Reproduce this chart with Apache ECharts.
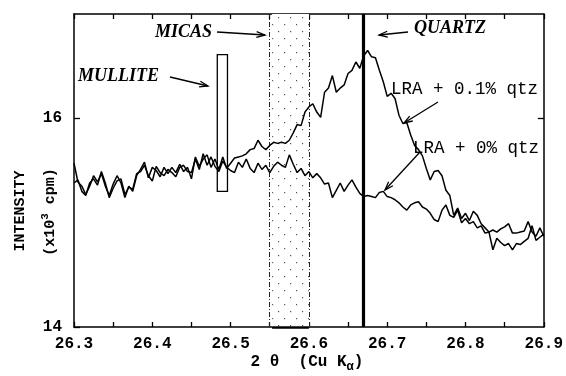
<!DOCTYPE html>
<html>
<head>
<meta charset="utf-8">
<script src="https://cdn.jsdelivr.net/npm/echarts@6/dist/echarts.min.js"></script>
<style>
  html, body { margin: 0; padding: 0; background: #fff; }
  #chart { width: 566px; height: 376px; }
</style>
</head>
<body>
<div id="chart"></div>
<script>
// Step scan in 2-theta (degrees), constant step
const twoThetaStart = 26.30;
const twoThetaStep = 0.005;

// Intensity (x10^3 cpm), LRA spiked with 0.1% quartz
const lraQtz01 = [
  15.57, 15.39, 15.35, 15.27, 15.35, 15.45, 15.39, 15.47, 15.35, 15.26,
  15.37, 15.45, 15.38, 15.24, 15.35, 15.30, 15.45, 15.51, 15.58, 15.43,
  15.53, 15.50, 15.44, 15.53, 15.47, 15.53, 15.48, 15.56, 15.49, 15.53,
  15.42, 15.63, 15.54, 15.61, 15.65, 15.53, 15.61, 15.51, 15.63, 15.52,
  15.57, 15.62, 15.63, 15.64, 15.66, 15.70, 15.71, 15.79, 15.73, 15.70,
  15.74, 15.77, 15.76, 15.77, 15.76, 15.79, 15.86, 15.94, 15.93, 16.06,
  16.11, 16.14, 16.06, 16.01, 16.25, 16.29, 16.41, 16.25, 16.29, 16.32,
  16.43, 16.46, 16.54, 16.48, 16.60, 16.65, 16.59, 16.58, 16.46, 16.35,
  16.21, 16.24, 16.19, 16.03, 15.95, 15.96, 15.84, 15.74, 15.70, 15.64,
  15.52, 15.41, 15.49, 15.50, 15.45, 15.31, 15.26, 15.07, 15.14, 15.04,
  15.09, 15.02, 15.11, 15.07, 14.99, 14.95, 14.91, 14.93, 14.91, 14.94,
  14.96, 14.99, 14.90, 14.90, 14.91, 14.92, 15.01, 14.91, 14.87, 14.95,
  14.87
];

// Intensity (x10^3 cpm), LRA without quartz
const lraQtz00 = [
  15.38, 15.41, 15.30, 15.26, 15.38, 15.42, 15.36, 15.49, 15.38, 15.24,
  15.33, 15.40, 15.42, 15.27, 15.34, 15.32, 15.47, 15.49, 15.55, 15.45,
  15.40, 15.54, 15.48, 15.45, 15.51, 15.48, 15.44, 15.53, 15.55, 15.49,
  15.48, 15.61, 15.51, 15.66, 15.55, 15.63, 15.54, 15.49, 15.59, 15.53,
  15.50, 15.48, 15.58, 15.53, 15.61, 15.52, 15.48, 15.57, 15.51, 15.55,
  15.48, 15.54, 15.58, 15.55, 15.53, 15.65, 15.56, 15.48, 15.52, 15.45,
  15.49, 15.43, 15.47, 15.43, 15.37, 15.38, 15.24, 15.31, 15.38, 15.30,
  15.36, 15.41, 15.34, 15.28, 15.25, 15.26, 15.25, 15.24, 15.29, 15.30,
  15.25, 15.24, 15.22, 15.19, 15.15, 15.12, 15.17, 15.19, 15.20, 15.15,
  15.13, 15.09, 15.03, 15.01, 15.12, 15.17, 15.07, 15.05, 15.12, 15.00,
  15.04, 14.99, 15.01, 14.95, 14.97, 14.90, 14.91, 14.74, 14.85, 14.81,
  14.78, 14.80, 14.74, 14.80, 14.79, 14.82, 14.85, 14.97, 14.83, 14.86,
  14.89
];

// Reference peak positions / windows
const quartzPeak = 26.672;
const micasRange = [26.553, 26.600];
const mulliteRange = [26.483, 26.496];
const mulliteIntensity = [15.30, 16.61];

// Axis ticks and labels
const xTickValues = [26.30, 26.35, 26.40, 26.45, 26.50, 26.55, 26.60, 26.65, 26.70, 26.75, 26.80, 26.85, 26.90];
const xLabelValues = [26.3, 26.4, 26.5, 26.6, 26.7, 26.8, 26.9];
const yTickValues = [14, 16];
const yLabelValues = [14, 16];

const toSeries = (vals) => vals.map((v, i) => [+(twoThetaStart + i * twoThetaStep).toFixed(3), v]);

// Dotted fill for the micas window
function dotPattern() {
  const c = document.createElement('canvas');
  c.width = 12; c.height = 14;
  const g = c.getContext('2d');
  g.fillStyle = '#fff';
  g.fillRect(0, 0, 12, 14);
  g.fillStyle = '#555';
  g.fillRect(2, 3, 1.2, 1.2);
  g.fillRect(8, 10, 1.2, 1.2);
  return c;
}

const chart = echarts.init(document.getElementById('chart'), null, { renderer: 'canvas' });

const MONO = '"Liberation Mono", "DejaVu Sans Mono", monospace';
const SERIF = '"Liberation Serif", "DejaVu Serif", serif';

function arrow(x0, y0, x1, y1) {
  const a = Math.atan2(y1 - y0, x1 - x0);
  const L = 9, w = 0.33;
  const p1 = [x1 - L * Math.cos(a - w), y1 - L * Math.sin(a - w)];
  const p2 = [x1 - L * Math.cos(a + w), y1 - L * Math.sin(a + w)];
  return {
    type: 'group',
    children: [
      { type: 'line', shape: { x1: x0, y1: y0, x2: x1, y2: y1 }, style: { stroke: '#000', lineWidth: 1.3 } },
      { type: 'polyline', shape: { points: [p1, [x1, y1], p2] }, style: { stroke: '#000', lineWidth: 1.3, fill: null } }
    ]
  };
}

function label(text, x, y, font, align) {
  return {
    type: 'text', x: x, y: y,
    style: { text: text, font: font, fill: '#000', align: align || 'left', verticalAlign: 'middle' }
  };
}

const axisLineStyle = { color: '#000', width: 1.5 };

const option = {
  animation: false,
  backgroundColor: '#fff',
  grid: { left: 74, right: 20, top: 14, bottom: 49 },
  xAxis: [
    {
      type: 'value', min: 26.3, max: 26.9, position: 'bottom',
      axisLine: { show: true, onZero: false, lineStyle: axisLineStyle },
      axisTick: { show: true, inside: true, length: 5, customValues: xTickValues, lineStyle: { color: '#000', width: 1.3 } },
      axisLabel: {
        customValues: xLabelValues, margin: 9,
        formatter: (v) => v.toFixed(1),
        color: '#000', fontFamily: MONO, fontWeight: 'bold', fontSize: 16
      },
      splitLine: { show: false }
    },
    {
      type: 'value', min: 26.3, max: 26.9, position: 'top',
      axisLine: { show: true, onZero: false, lineStyle: axisLineStyle },
      axisTick: { show: true, inside: true, length: 5, customValues: xTickValues, lineStyle: { color: '#000', width: 1.3 } },
      axisLabel: { show: false },
      splitLine: { show: false }
    }
  ],
  yAxis: [
    {
      type: 'value', min: 14, max: 17, position: 'left',
      axisLine: { show: true, onZero: false, lineStyle: axisLineStyle },
      axisTick: { show: true, inside: true, length: 6, customValues: yTickValues, lineStyle: { color: '#000', width: 1.3 } },
      axisLabel: {
        customValues: yLabelValues, margin: 12,
        color: '#000', fontFamily: MONO, fontWeight: 'bold', fontSize: 16
      },
      splitLine: { show: false }
    },
    {
      type: 'value', min: 14, max: 17, position: 'right',
      axisLine: { show: true, onZero: false, lineStyle: axisLineStyle },
      axisTick: { show: true, inside: true, length: 6, customValues: [16], lineStyle: { color: '#000', width: 1.3 } },
      axisLabel: { show: false },
      splitLine: { show: false }
    }
  ],
  series: [
    {
      name: 'LRA + 0.1% qtz', type: 'line', data: toSeries(lraQtz01),
      symbol: 'none', z: 5,
      lineStyle: { color: '#000', width: 1.5 },
      markArea: {
        silent: true,
        label: { show: false },
        data: [
          [
            { xAxis: micasRange[0], itemStyle: { color: { image: dotPattern(), repeat: 'repeat' }, borderWidth: 0 } },
            { xAxis: micasRange[1] }
          ],
          [
            { xAxis: mulliteRange[0], yAxis: mulliteIntensity[0], itemStyle: { color: 'rgba(0,0,0,0)', borderColor: '#000', borderWidth: 1.3 } },
            { xAxis: mulliteRange[1], yAxis: mulliteIntensity[1] }
          ]
        ]
      },
      markLine: {
        silent: true, symbol: 'none',
        label: { show: false },
        data: [
          { xAxis: micasRange[0], lineStyle: { color: '#222', width: 1, type: [5, 2, 1, 2] } },
          { xAxis: micasRange[1], lineStyle: { color: '#222', width: 1, type: [5, 2, 1, 2] } },
          { xAxis: quartzPeak, lineStyle: { color: '#000', width: 3.2, type: 'solid' } },
          [
            { coord: [micasRange[0], 14], lineStyle: { color: '#000', width: 2.5, type: 'solid' } },
            { coord: [micasRange[1], 14] }
          ]
        ]
      }
    },
    {
      name: 'LRA + 0% qtz', type: 'line', data: toSeries(lraQtz00),
      symbol: 'none', z: 5,
      lineStyle: { color: '#000', width: 1.5 }
    }
  ],
  graphic: [
    // Axis titles
    {
      type: 'text', x: 20, y: 211, rotation: Math.PI / 2,
      style: { text: 'INTENSITY', font: 'bold 15px ' + MONO, fill: '#000', align: 'center', verticalAlign: 'middle' }
    },
    {
      type: 'text', x: 50, y: 212, rotation: Math.PI / 2,
      style: {
        text: '(x10{sup|3} cpm)', font: 'bold 15px ' + MONO, fill: '#000', align: 'center', verticalAlign: 'middle',
        rich: { sup: { font: 'bold 11px ' + MONO, fill: '#000', padding: [0, 0, 9, 0] } }
      }
    },
    {
      type: 'text', x: 307, y: 362,
      style: {
        text: '2 θ  (Cu K{sub|α})', font: 'bold 16px ' + MONO, fill: '#000', align: 'center', verticalAlign: 'middle',
        rich: { sub: { font: 'bold 12px ' + MONO, fill: '#000', padding: [10, 0, 0, 0] } }
      }
    },
    // Annotations
    label('MICAS', 155, 32, 'italic bold 18px ' + SERIF),
    label('MULLITE', 78, 76, 'italic bold 18px ' + SERIF),
    label('QUARTZ', 414, 28, 'italic bold 18px ' + SERIF),
    label('LRA + 0.1% qtz', 391, 89, '17.5px ' + MONO),
    label('LRA + 0% qtz', 413, 148, '17.5px ' + MONO),
    arrow(217, 32, 265, 35),
    arrow(170, 77, 208, 86),
    arrow(408, 32, 379, 35),
    arrow(438, 102, 404, 123),
    arrow(420, 152, 385, 190)
  ]
};

chart.setOption(option);
</script>
</body>
</html>
